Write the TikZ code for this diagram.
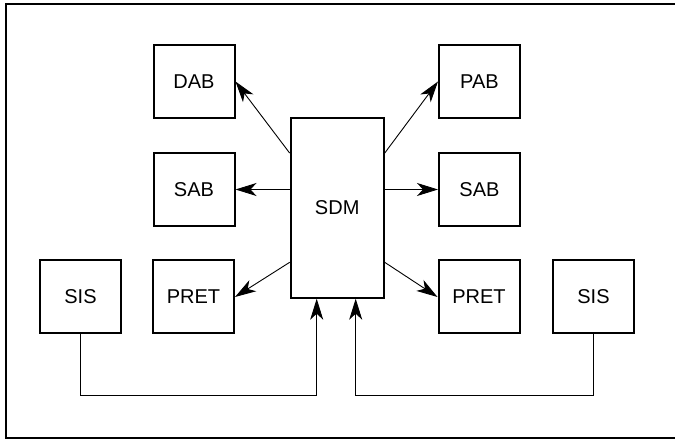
\documentclass[tikz,border=0pt]{standalone}
\usepackage{fontspec}
\setmainfont{Liberation Sans}
\usetikzlibrary{calc, arrows.meta}

\begin{document}
\begin{tikzpicture}[x=1pt, y=1pt,
                unit/.style={draw, line width=2pt, minimum width=81pt, minimum height=73pt,
                    inner sep=0pt, font=\fontsize{20}{22}\selectfont},
                link/.style={line width=0.9pt, -{Stealth[length=21pt, width=13pt, inset=6pt]}}]
                \useasboundingbox (0,0) rectangle (675,439);
                \draw[line width=2pt] (680,0.7) -- (6,0.7) -- (6,434.5) -- (680,434.5);
                \node[unit] (dab) at (194,357.5) {DAB};
                \node[unit] (sabl) at (194,249.5) {SAB};
                \node[unit] (pretl) at (193.5,142) {PRET};
                \node[unit] (sisl) at (80.5,142) {SIS};
                \node[unit] (pab) at (479.5,357.5) {PAB};
                \node[unit] (sabr) at (479.5,249.5) {SAB};
                \node[unit] (pretr) at (479,142) {PRET};
                \node[unit] (sisr) at (593.5,142) {SIS};
                \node[unit, minimum width=93pt, minimum height=180pt] (sdm) at (337.2,231.3) {SDM};
                \coordinate (ul) at ($(sdm.north west)!0.2!(sdm.south west)$);
                \coordinate (ll) at ($(sdm.north west)!0.8!(sdm.south west)$);
                \coordinate (ur) at ($(sdm.north east)!0.2!(sdm.south east)$);
                \coordinate (lr) at ($(sdm.north east)!0.8!(sdm.south east)$);
                \coordinate (inl) at ($(sdm.south)+(-20.5,0)$);
                \coordinate (inr) at ($(sdm.south)+(18.5,0)$);
                \coordinate (bus) at (0,44);
                \draw[link] (ul) -- (dab.east);
                \draw[link] (sdm.west |- sabl) -- (sabl.east);
                \draw[link] (ll) -- (pretl.east);
                \draw[link] (ur) -- (pab.west);
                \draw[link] (sdm.east |- sabr) -- (sabr.west);
                \draw[link] (lr) -- (pretr.west);
                \draw[link] (sisl.south) |- (bus -| inl) -- (inl);
                \draw[link] (sisr.south) |- (bus -| inr) -- (inr);
            \end{tikzpicture}
\end{document}
